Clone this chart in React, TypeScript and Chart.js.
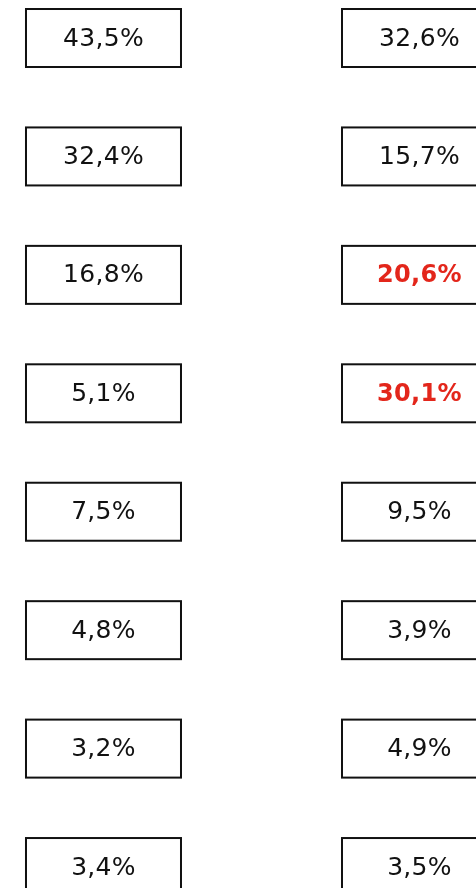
import React, { useEffect, useRef } from "react";
import { Chart, registerables } from "chart.js";

Chart.register(...registerables);

const rows = ["r1", "r2", "r3", "r4", "r5", "r6", "r7", "r8"];
const leftValues = [43.5, 32.4, 16.8, 5.1, 7.5, 4.8, 3.2, 3.4];
const rightValues = [32.6, 15.7, 20.6, 30.1, 9.5, 3.9, 4.9, 3.5];
const leftHighlight = [false, false, false, false, false, false, false, false];
const rightHighlight = [false, false, true, true, false, false, false, false];

const fmt = (v: number) => v.toFixed(1).replace(".", ",") + "%";

const boxPlugin = {
  id: "boxPlugin",
  afterDatasetsDraw(chart: any) {
    const ctx = chart.ctx;
    chart.data.datasets.forEach((ds: any, di: number) => {
      const meta = chart.getDatasetMeta(di);
      meta.data.forEach((pt: any, i: number) => {
        const x = pt.x;
        const y = pt.y;
        const w = 155;
        const h = 58;
        ctx.save();
        ctx.fillStyle = "#ffffff";
        ctx.fillRect(x - w / 2, y - h / 2, w, h);
        ctx.strokeStyle = "#111111";
        ctx.lineWidth = 2;
        ctx.strokeRect(x - w / 2, y - h / 2, w, h);
        const hl = ds.highlight[i];
        ctx.fillStyle = hl ? "#e3261b" : "#111111";
        ctx.font = (hl ? "bold 24px" : "25px") + " 'DejaVu Sans'";
        (ctx as any).letterSpacing = "0.3px";
        ctx.textAlign = "center";
        ctx.textBaseline = "middle";
        ctx.fillText(fmt(ds.data[i].v), x, y + 1);
        ctx.restore();
      });
    });
  },
};

export default function App() {
  const ref = useRef<HTMLCanvasElement>(null);
  useEffect(() => {
    if (!ref.current) return;
    const chart = new Chart(ref.current, {
      type: "scatter",
      data: {
        datasets: [
          {
            label: "left",
            data: leftValues.map((v, i) => ({ x: 0, y: i, v })),
            highlight: leftHighlight,
            pointRadius: 0,
          } as any,
          {
            label: "right",
            data: rightValues.map((v, i) => ({ x: 1, y: i, v })),
            highlight: rightHighlight,
            pointRadius: 0,
          } as any,
        ],
      },
      options: {
        responsive: false,
        animation: false,
        layout: { padding: 0 },
        plugins: { legend: { display: false }, tooltip: { enabled: false } },
        scales: {
          x: { type: "linear", display: false, min: -0.3275, max: 1.1788 },
          y: {
            type: "linear",
            display: false,
            reverse: true,
            min: -0.3209,
            max: rows.length - 1 + 0.177,
          },
        },
      },
      plugins: [boxPlugin],
    });
    return () => chart.destroy();
  }, []);
  return (
    <div style={{ position: "fixed", left: 0, top: 0, width: 476, height: 888, background: "#fff" }}>
      <canvas ref={ref} width={476} height={888} />
    </div>
  );
}
